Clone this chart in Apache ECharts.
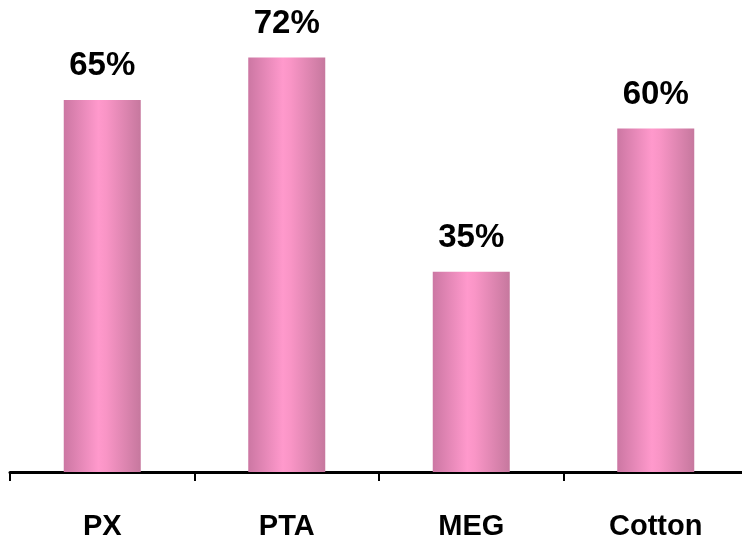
<!DOCTYPE html>
<html><head><meta charset="utf-8">
<script src="https://cdn.jsdelivr.net/npm/echarts@6/dist/echarts.min.js"></script>
<style>html,body{margin:0;padding:0;background:#fff}#c{width:742px;height:540px}</style>
</head><body><div id="c"></div>
<script>
var categories = ['PX', 'PTA', 'MEG', 'Cotton'];
var values = [65, 72.4, 35, 60];
var chart = echarts.init(document.getElementById('c'));
var grad = new echarts.graphic.LinearGradient(0, 0, 1, 0, [
  {offset: 0, color: '#cc77a3'},
  {offset: 0.45, color: '#ff99cc'},
  {offset: 0.55, color: '#f995c6'},
  {offset: 1, color: '#c6789e'}
]);
chart.setOption({
  animation: false,
  grid: {left: 10, top: 14, width: 738, height: 458, containLabel: false, outerBoundsMode: 'none'},
  xAxis: {
    type: 'category', data: categories,
    axisLine: {lineStyle: {color: '#000', width: 3}},
    axisTick: {show: true, length: 9, lineStyle: {color: '#000', width: 2}},
    axisLabel: {color: '#000', fontSize: 29, fontWeight: 'bold', fontFamily: 'Liberation Sans, Arial', margin: 40}
  },
  yAxis: {type: 'value', min: 0, max: 80, show: false, splitLine: {show: false}},
  series: [{
    type: 'bar', data: values, barWidth: 77,
    itemStyle: {color: grad},
    label: {show: true, position: 'top', distance: 17,
      formatter: function (p) { return Math.round(p.value) + '%'; },
      color: '#000', fontSize: 33, fontWeight: 'bold', fontFamily: 'Liberation Sans, Arial'}
  }]
});
</script></body></html>
